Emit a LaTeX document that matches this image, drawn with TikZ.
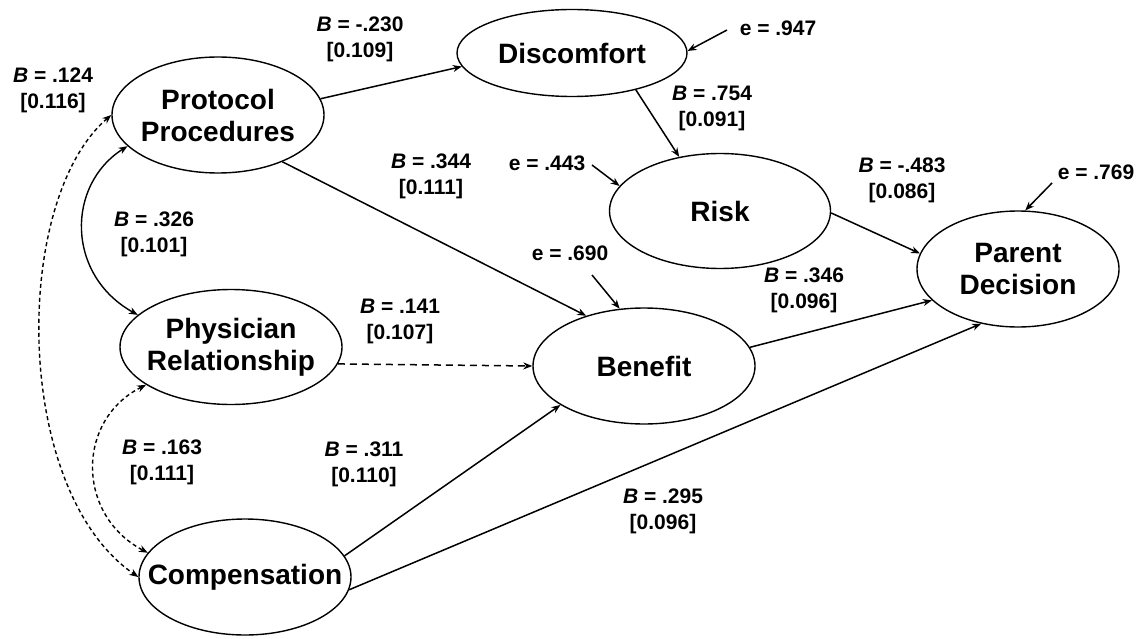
\documentclass[tikz,border=0pt]{standalone}
\usepackage{fontspec}
\setmainfont{Liberation Sans}
\usetikzlibrary{shapes.geometric,arrows.meta}
\begin{document}
\begin{tikzpicture}[x=1pt,y=-1pt,
  ell/.style={draw, ellipse, line width=1.4pt, inner sep=0pt},
  ntext/.style={font=\fontsize{28}{32}\selectfont\bfseries, align=center, inner sep=0pt},
  lab/.style={font=\fontsize{21}{26}\selectfont\bfseries, align=center, inner sep=0pt},
  tip/.style={-{Stealth[length=9pt,width=7pt]}},
  conn/.style={line width=1.5pt, tip},
  dconn/.style={line width=1.4pt, {Stealth[length=9pt,width=7pt]}-{Stealth[length=9pt,width=7pt]}},
  longdash/.style={dash pattern=on 7pt off 5pt},
  shortdash/.style={dash pattern=on 4pt off 3pt}]
\useasboundingbox (0,0) rectangle (1147,639);
\fill[white] (0,0) rectangle (1147,639);

% latent variables
\node[ell, minimum width=212pt, minimum height=116pt] (prot) at (218,115) {};
\node[ntext] (protT) at (prot) {Protocol\\Procedures};
\node[ell, minimum width=230pt, minimum height=87pt] (disc) at (572,53) {};
\node[ntext] (discT) at (disc) {Discomfort};
\node[ell, minimum width=221pt, minimum height=115pt] (risk) at (720,211) {};
\node[ntext] (riskT) at (risk) {Risk};
\node[ell, minimum width=202pt, minimum height=116pt] (par) at (1018,269) {};
\node[ntext] (parT) at (par) {Parent\\Decision};
\node[ell, minimum width=222pt, minimum height=116pt] (ben) at (644,366) {};
\node[ntext] (benT) at (ben) {Benefit};
\node[ell, minimum width=222pt, minimum height=115pt] (phys) at (231,347) {};
\node[ntext] (physT) at (phys) {Physician\\Relationship};
\node[ell, minimum width=212pt, minimum height=116pt] (comp) at (245,577) {};
\node[ntext] (compT) at (comp) {Compensation};

% error terms
\node[lab] (e1) at (778,28) {e = .947};
\node[lab] (e2) at (547,163) {e = .443};
\node[lab] (e3) at (570,253) {e = .690};
\node[lab] (e4) at (1096,172) {e = .769};
\coordinate (e1s) at (727,30);
\coordinate (e2s) at (592,165);
\coordinate (e3s) at (592,275);
\coordinate (e4s) at (1052,183);
\draw[conn] (e1s) -- (disc.1.5);
\draw[conn] (e2s) -- (risk.166.8);
\draw[conn] (e3s) -- (ben.113.9);
\draw[conn] (e4s) -- (par.83);

% paths
\draw[conn] (prot.9.5) -- (disc.187.3);
\draw[conn] (prot.-36.4) -- (ben.139.2);
\draw[conn] (disc.-30.4) -- (risk.127);
\draw[conn] (risk.-1) -- (par.171);
\draw[conn] (ben.10.5) -- (par.200.5);
\draw[conn] (comp.-7) -- (par.236.3);
\draw[conn] (comp.12.4) -- (ben.205.4);
\draw[conn, longdash] (phys.-9.2) -- (ben.180);

% covariances
\draw[dconn] (prot.199.5) .. controls (66,185) and (66,275) .. (phys.161.9);
\draw[dconn, shortdash] (phys.204.7) .. controls (76,420) and (76,515) .. (comp.166.2);
\draw[dconn, shortdash] (prot.180) .. controls (12,200) and (12,490) .. (comp.180);

% coefficient labels
\node[lab] (l1) at (53,90) {\textit{B} = .124\\{}[0.116]};
\node[lab] (l2) at (360,39) {\textit{B} = -.230\\{}[0.109]};
\node[lab] (l3) at (712,108) {\textit{B} = .754\\{}[0.091]};
\node[lab] (l4) at (431,176) {\textit{B} = .344\\{}[0.111]};
\node[lab] (l5) at (902,180) {\textit{B} = -.483\\{}[0.086]};
\node[lab] (l6) at (804,290) {\textit{B} = .346\\{}[0.096]};
\node[lab] (l7) at (154,234) {\textit{B} = .326\\{}[0.101]};
\node[lab] (l8) at (400,321) {\textit{B} = .141\\{}[0.107]};
\node[lab] (l9) at (162,462) {\textit{B} = .163\\{}[0.111]};
\node[lab] (l10) at (364,464) {\textit{B} = .311\\{}[0.110]};
\node[lab] (l11) at (663,511) {\textit{B} = .295\\{}[0.096]};
\end{tikzpicture}
\end{document}
